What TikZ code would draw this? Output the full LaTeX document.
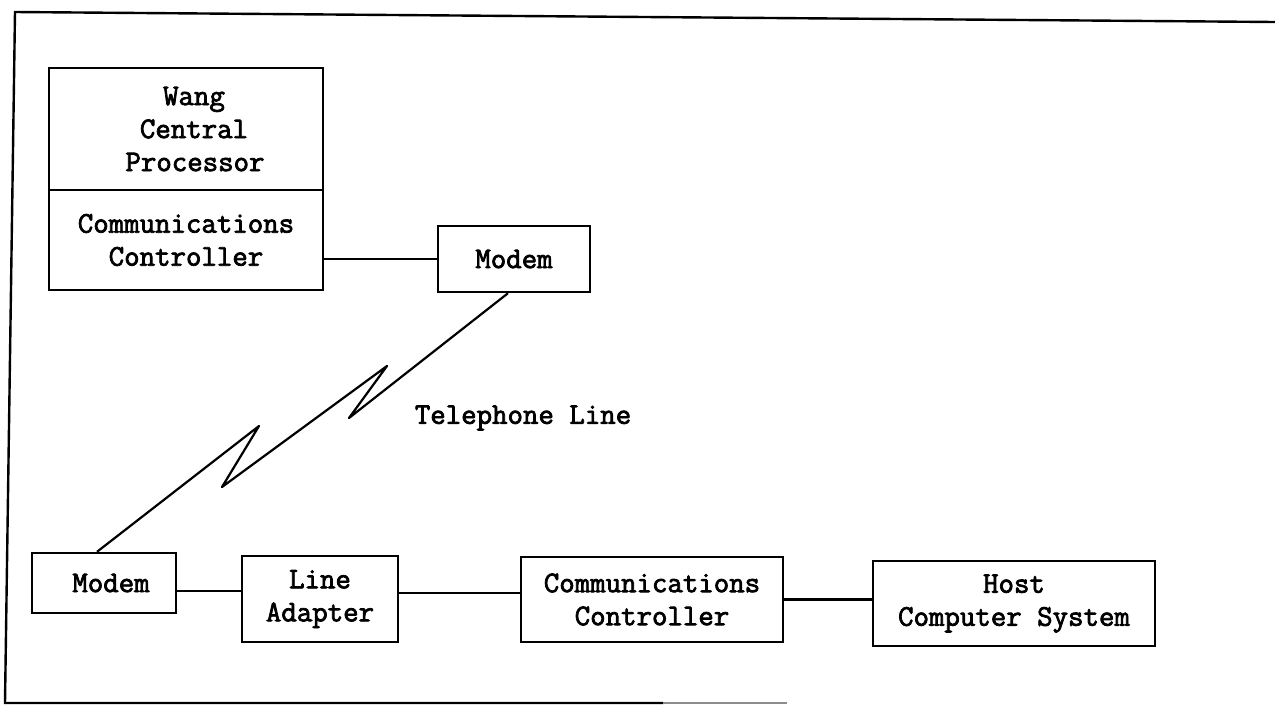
\documentclass[tikz,border=0pt]{standalone}
\usepackage{fontspec}
\newfontfamily\typew{Latin Modern Mono}[FakeBold=2.5]
\begin{document}
\begin{tikzpicture}[x=1pt,y=-1pt,
  every node/.style={font=\fontsize{30}{33}\selectfont\typew\bfseries, align=center, inner sep=0pt},
  box/.style={draw, line width=2.4pt, rectangle},
  wire/.style={line width=2.2pt},
  frame/.style={line width=2.4pt}]
\useasboundingbox (0,0) rectangle (1275,705);
% frame
\coordinate (ftl) at (15,12);
\coordinate (ftr) at (1275,22);
\coordinate (fbl) at (5,703);
\coordinate (fbm) at (663,703);
\coordinate (fbr) at (787,703);
\draw[frame] (ftr) -- (ftl) -- (fbl) -- (fbm);
\draw[line width=1.5pt, black!45] (fbm) -- (fbr);
% Wang box
\node[box, minimum width=274pt, minimum height=122pt] (wangtop) at (186,129) {\hspace*{16pt}Wang\\\hspace*{16pt}Central\\\hspace*{18pt}Processor};
\node[box, minimum width=274pt, minimum height=100pt] (wangcc) at (186,240) {Communications\\Controller};
% modems
\node[box, minimum width=152pt, minimum height=66pt] (modem1) at (514,259) {Modem};
\node[box, minimum width=144pt, minimum height=60pt] (modem2) at (104,583) {\hspace*{14pt}Modem};
\node[box, minimum width=156pt, minimum height=86pt] (la) at (320,599) {Line\\Adapter};
\node[box, minimum width=262pt, minimum height=85pt] (cc) at (652,599.5) {Communications\\Controller};
\node[box, minimum width=282pt, minimum height=85pt] (host) at (1014,603.5) {Host\\Computer System};
\node (tel) at (523,418) {Telephone Line};
% connectors
\draw[wire] (modem1.west) -- (modem1.west -| wangcc.east);
\draw[wire] ([yshift=-8pt]modem2.east) -- ([yshift=-8pt]modem2.east -| la.west);
\draw[wire] ([yshift=6pt]la.east) -- ([yshift=6pt]la.east -| cc.west);
\draw[wire] (cc.east) -- (cc.east -| host.west);
% telephone line
\coordinate (z1) at (349,418);
\coordinate (z2) at (387,366);
\coordinate (z3) at (222,487);
\coordinate (z4) at (259,426);
\draw[wire, line join=round] ([xshift=-6pt]modem1.south) -- (z1) -- (z2) -- (z3) -- (z4) -- ([xshift=-7pt]modem2.north);
\end{tikzpicture}
\end{document}
